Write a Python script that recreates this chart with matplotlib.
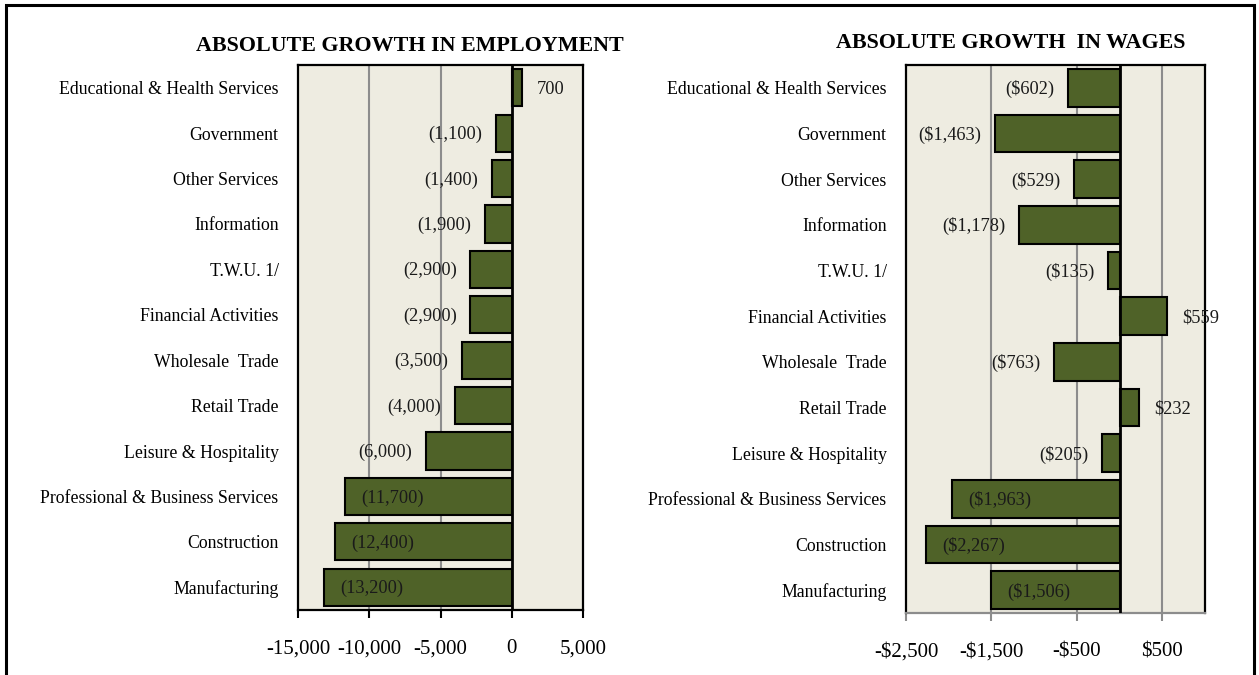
import matplotlib
matplotlib.use("Agg")
import matplotlib.pyplot as plt
from matplotlib.patches import Rectangle
from matplotlib.ticker import FixedLocator, FuncFormatter

# ---------------- data ----------------
categories = [
    "Educational & Health Services",
    "Government",
    "Other Services",
    "Information",
    "T.W.U. 1/",
    "Financial Activities",
    "Wholesale  Trade",
    "Retail Trade",
    "Leisure & Hospitality",
    "Professional & Business Services",
    "Construction",
    "Manufacturing",
]
employment_growth = [700, -1100, -1400, -1900, -2900, -2900, -3500, -4000,
                     -6000, -11700, -12400, -13200]
wage_growth = [-602, -1463, -529, -1178, -135, 559, -763, 232, -205,
               -1963, -2267, -1506]
employment_ticks = [-15000, -10000, -5000, 0, 5000]
wage_ticks = [-2500, -1500, -500, 500]
inside_label_rows = {"Professional & Business Services", "Construction", "Manufacturing"}

# ---------------- style ----------------
FONT = "Liberation Serif"
BAR = "#4F6228"
BG = "#EEECE1"
GRID = "#8C8C8C"

fig = plt.figure(figsize=(12.59, 6.75), dpi=100)

def fmt_emp_label(v):
    return f"{v:,.0f}" if v >= 0 else f"({abs(v):,.0f})"

def fmt_wage_label(v):
    return f"${v:,.0f}" if v >= 0 else f"(${abs(v):,.0f})"

def fmt_emp_tick(v, pos=None):
    return f"{v:,.0f}" if v >= 0 else f"-{abs(v):,.0f}"

def fmt_wage_tick(v, pos=None):
    return f"${v:,.0f}" if v >= 0 else f"-${abs(v):,.0f}"

def panel(rect, values, xlim, ticks, grid_vals, tick_fmt, label_fmt, title,
          title_xy, bottom_color):
    ax = fig.add_axes(rect)
    ax.set_facecolor(BG)
    y = list(range(len(categories)))[::-1]
    for gv in grid_vals:
        ax.axvline(gv, color=GRID, lw=1.5, zorder=1)
    ax.barh(y, values, height=0.82, color=BAR, edgecolor="black",
            linewidth=1.5, zorder=3)
    ax.axvline(0, color="black", lw=2.0, zorder=4)
    ax.set_xlim(*xlim)
    ax.set_ylim(-0.5, len(categories) - 0.5)
    ax.set_yticks(y)
    ax.set_yticklabels(categories, fontfamily=FONT, fontsize=12.8)
    ax.tick_params(axis="y", length=0, pad=14)
    ax.xaxis.set_major_locator(FixedLocator(ticks))
    ax.xaxis.set_major_formatter(FuncFormatter(tick_fmt))
    ax.tick_params(axis="x", length=6, width=1.5, direction="out",
                   pad=15, color=bottom_color)
    for lab in ax.get_xticklabels():
        lab.set_fontfamily(FONT)
        lab.set_fontsize(15)
    for s in ax.spines.values():
        s.set_color("black")
        s.set_linewidth(1.6)
    ax.spines["bottom"].set_color(bottom_color)
    for yi, v, cat in zip(y, values, categories):
        txt = label_fmt(v)
        kw = dict(va="center", fontfamily=FONT, fontsize=13.2,
                  color="#1a1a1a", zorder=5, textcoords="offset points")
        if cat in inside_label_rows:
            ax.annotate(txt, (v, yi), xytext=(12, -1), ha="left", **kw)
        elif v >= 0:
            ax.annotate(txt, (v, yi), xytext=(11, -1), ha="left", **kw)
        else:
            ax.annotate(txt, (v, yi), xytext=(-10, -1), ha="right", **kw)
    fig.text(title_xy[0], title_xy[1], title, ha="center", va="center",
             fontfamily=FONT, fontweight="bold", fontsize=15.8)
    return ax

W, H = 1259, 675
panel([298 / W, 1 - 610 / H, 285 / W, 545 / H], employment_growth,
      (-15000, 5000), employment_ticks, [-10000, -5000],
      fmt_emp_tick, fmt_emp_label, "ABSOLUTE GROWTH IN EMPLOYMENT",
      (410 / W, 1 - 46 / H), "black")
panel([906 / W, 1 - 613 / H, 299 / W, 548 / H], wage_growth,
      (-2500, 1000), wage_ticks, [-1500, -500, 500],
      fmt_wage_tick, fmt_wage_label, "ABSOLUTE GROWTH  IN WAGES",
      (1011 / W, 1 - 43 / H), GRID)

fig.patches.append(Rectangle((6 / W, -0.02), (1254 - 6) / W, 1.02 - 5 / H,
                             transform=fig.transFigure, fill=False,
                             edgecolor="black", linewidth=2.2, clip_on=False))

fig.savefig("out.png", dpi=100)
